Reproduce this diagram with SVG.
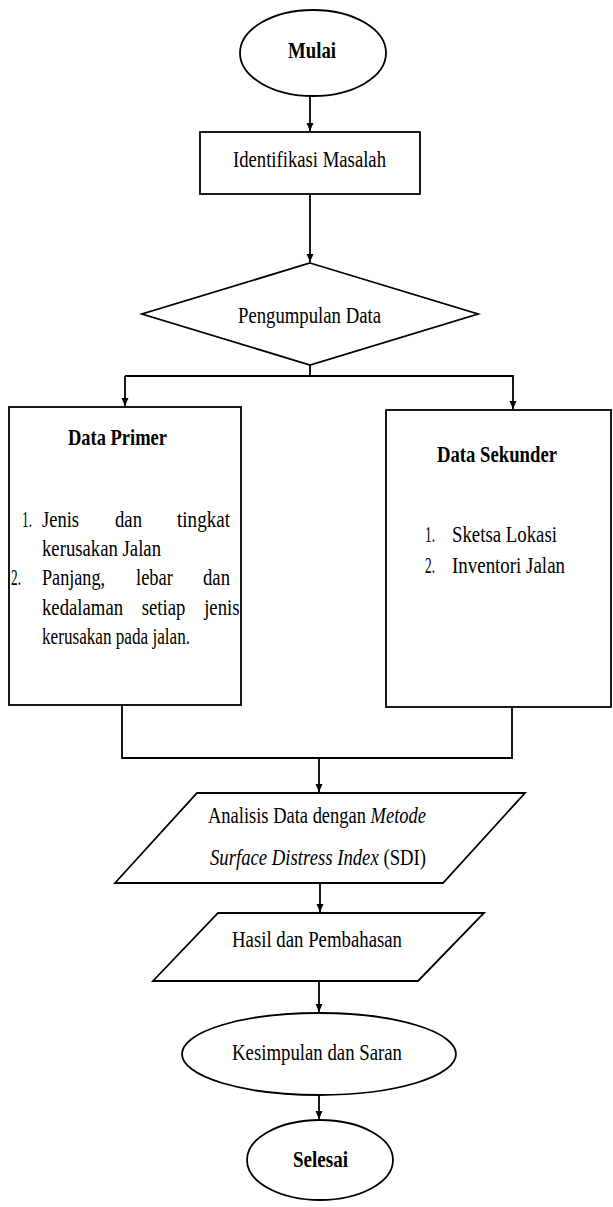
<svg xmlns="http://www.w3.org/2000/svg" width="613" height="1207" viewBox="0 0 613 1207">
<style>
.s{fill:#fff;stroke:#000;stroke-width:1.8}
.c{fill:none;stroke:#000;stroke-width:1.8}
text{font-family:"Liberation Serif","Times New Roman",serif;font-size:24px;fill:#000}
.b{font-weight:bold}
.i{font-style:italic}
</style>
<defs>
<marker id="ah" markerUnits="userSpaceOnUse" markerWidth="9" markerHeight="8" refX="8" refY="4" orient="auto">
<path d="M0,0.5 L8,4 L0,7.5 z" fill="#000"/>
</marker>
</defs>
<g id="connectors">
<line class="c" x1="310" y1="96" x2="310" y2="131" marker-end="url(#ah)"/>
<line class="c" x1="310" y1="194" x2="310" y2="262" marker-end="url(#ah)"/>
<polyline class="c" points="310,365 310,376"/>
<polyline class="c" points="125,376 513,376 513,409" marker-end="url(#ah)"/>
<line class="c" x1="125" y1="376" x2="125" y2="406" marker-end="url(#ah)"/>
<polyline class="c" points="122,705 122,758 512,758 512,707"/>
<line class="c" x1="319" y1="758" x2="319" y2="792" marker-end="url(#ah)"/>
<line class="c" x1="320" y1="883" x2="320" y2="912" marker-end="url(#ah)"/>
<line class="c" x1="319" y1="981" x2="319" y2="1012" marker-end="url(#ah)"/>
<line class="c" x1="319" y1="1095" x2="319" y2="1119" marker-end="url(#ah)"/>
</g>
<g id="mulai">
<ellipse class="s" cx="313" cy="53" rx="73" ry="43"/>
<text class="b" x="288" y="58" textLength="48" lengthAdjust="spacingAndGlyphs">Mulai</text>
</g>
<g id="identifikasi">
<rect class="s" x="200" y="132" width="220" height="62"/>
<text x="233" y="167" textLength="153" lengthAdjust="spacingAndGlyphs">Identifikasi Masalah</text>
</g>
<g id="pengumpulan">
<polygon class="s" points="310,263 478,314 310,365 142,314"/>
<text x="238" y="323" textLength="143" lengthAdjust="spacingAndGlyphs">Pengumpulan Data</text>
</g>
<g id="data-primer">
<rect class="s" x="9" y="407" width="232" height="298"/>
<text class="b" x="68" y="445" textLength="99" lengthAdjust="spacingAndGlyphs">Data Primer</text>
<text y="527"><tspan x="22" textLength="10" lengthAdjust="spacingAndGlyphs">1.</tspan><tspan x="42" textLength="37" lengthAdjust="spacingAndGlyphs">Jenis</tspan><tspan x="115" textLength="27" lengthAdjust="spacingAndGlyphs">dan</tspan><tspan x="177" textLength="53" lengthAdjust="spacingAndGlyphs">tingkat</tspan></text>
<text x="42" y="556" textLength="119" lengthAdjust="spacingAndGlyphs">kerusakan Jalan</text>
<text y="585"><tspan x="11" textLength="10" lengthAdjust="spacingAndGlyphs">2.</tspan><tspan x="42" textLength="63" lengthAdjust="spacingAndGlyphs">Panjang,</tspan><tspan x="136" textLength="37" lengthAdjust="spacingAndGlyphs">lebar</tspan><tspan x="203" textLength="27" lengthAdjust="spacingAndGlyphs">dan</tspan></text>
<text transform="translate(42,615) scale(0.78,1)" word-spacing="18">kedalaman setiap jenis</text>
<text x="42" y="644" textLength="148" lengthAdjust="spacingAndGlyphs">kerusakan pada jalan.</text>
</g>
<g id="data-sekunder">
<rect class="s" x="386" y="410" width="225" height="297"/>
<text class="b" x="437" y="462" textLength="120" lengthAdjust="spacingAndGlyphs">Data Sekunder</text>
<text y="542"><tspan x="425" textLength="10" lengthAdjust="spacingAndGlyphs">1.</tspan><tspan x="452" textLength="105" lengthAdjust="spacingAndGlyphs">Sketsa Lokasi</tspan></text>
<text y="573"><tspan x="425" textLength="10" lengthAdjust="spacingAndGlyphs">2.</tspan><tspan x="452" textLength="113" lengthAdjust="spacingAndGlyphs">Inventori Jalan</tspan></text>
</g>
<g id="analisis">
<polygon class="s" points="197,793 525,793 443,883 115,883"/>
<text transform="translate(208,823) scale(0.77,1)">Analisis Data dengan <tspan class="i">Metode</tspan></text>
<text transform="translate(210,865) scale(0.78,1)"><tspan class="i">Surface Distress Index</tspan> (SDI)</text>
</g>
<g id="hasil">
<polygon class="s" points="218,913 484,913 418,981 153,981"/>
<text x="232" y="947" textLength="170" lengthAdjust="spacingAndGlyphs">Hasil dan Pembahasan</text>
</g>
<g id="kesimpulan">
<ellipse class="s" cx="319" cy="1054" rx="137" ry="41"/>
<text x="232" y="1060" textLength="170" lengthAdjust="spacingAndGlyphs">Kesimpulan dan Saran</text>
</g>
<g id="selesai">
<ellipse class="s" cx="320" cy="1160" rx="73" ry="40"/>
<text class="b" x="293" y="1167" textLength="55" lengthAdjust="spacingAndGlyphs">Selesai</text>
</g>
</svg>
